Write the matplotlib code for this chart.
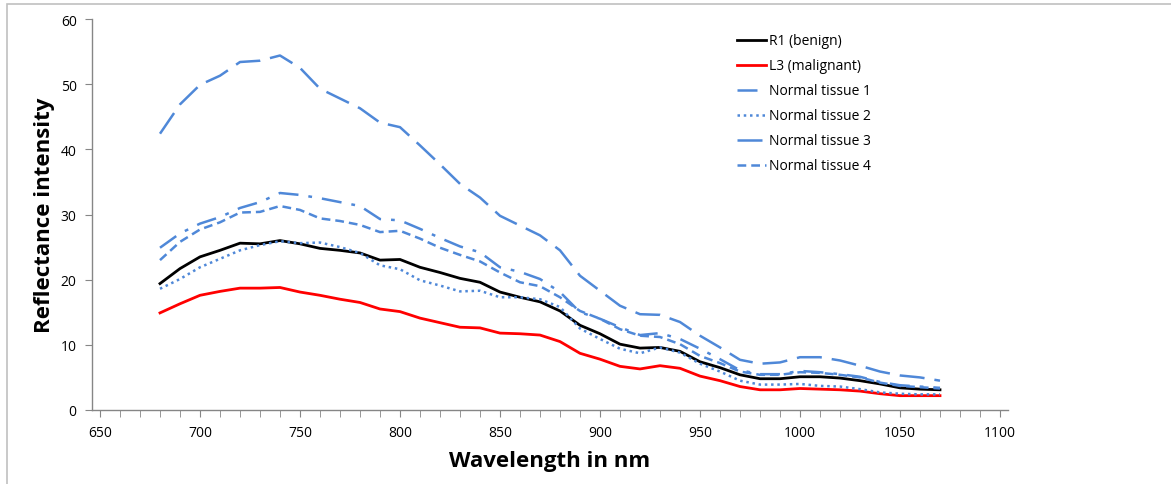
import matplotlib.pyplot as plt
from matplotlib.patches import Rectangle
import numpy as np

wavelength = np.arange(680, 1071, 10)

r1_benign = [19.4, 21.7, 23.5, 24.5, 25.6, 25.5, 26.0, 25.5, 24.8, 24.5,
             24.1, 23.0, 23.1, 21.9, 21.1, 20.2, 19.6, 18.1, 17.3, 16.6,
             15.2, 13.0, 11.7, 10.1, 9.5, 9.6, 9.0, 7.4, 6.5, 5.4,
             4.8, 4.8, 5.1, 5.1, 4.9, 4.5, 4.0, 3.4, 3.2, 3.1]
l3_malignant = [14.9, 16.3, 17.6, 18.2, 18.7, 18.7, 18.8, 18.1, 17.6, 17.0,
                16.5, 15.5, 15.1, 14.1, 13.4, 12.7, 12.6, 11.8, 11.7, 11.5,
                10.5, 8.7, 7.8, 6.7, 6.3, 6.8, 6.4, 5.2, 4.5, 3.6,
                3.1, 3.1, 3.3, 3.2, 3.1, 2.9, 2.5, 2.2, 2.2, 2.2]
normal_1 = [24.9, 27.1, 28.6, 29.6, 31.0, 31.9, 33.3, 33.0, 32.5, 31.9,
            31.3, 29.3, 29.1, 27.8, 26.4, 25.1, 24.2, 21.9, 21.2, 20.1,
            18.1, 15.0, 14.0, 12.7, 11.5, 11.8, 10.9, 9.4, 7.8, 6.1,
            5.5, 5.5, 6.0, 5.8, 5.5, 5.1, 4.3, 3.8, 3.6, 3.4]
normal_2 = [18.6, 20.1, 21.9, 23.2, 24.5, 25.3, 25.9, 25.6, 25.7, 25.0,
            24.1, 22.2, 21.6, 19.9, 19.1, 18.2, 18.3, 17.3, 17.3, 17.0,
            15.8, 12.5, 10.9, 9.4, 8.7, 9.6, 8.8, 7.1, 5.9, 4.5,
            3.9, 3.9, 4.0, 3.7, 3.6, 3.2, 2.7, 2.5, 2.4, 2.4]
normal_3 = [42.4, 46.9, 49.9, 51.3, 53.4, 53.6, 54.4, 52.5, 49.3, 47.8,
            46.3, 44.1, 43.4, 40.6, 37.7, 34.7, 32.6, 29.8, 28.3, 26.8,
            24.5, 20.6, 18.3, 16.0, 14.7, 14.6, 13.5, 11.4, 9.6, 7.7,
            7.1, 7.3, 8.1, 8.1, 7.6, 6.8, 5.9, 5.3, 5.0, 4.5]
normal_4 = [23.0, 25.8, 27.7, 28.8, 30.3, 30.4, 31.3, 30.7, 29.4, 29.0,
            28.4, 27.3, 27.5, 26.3, 24.9, 23.8, 22.8, 21.1, 19.6, 19.0,
            17.3, 15.2, 14.0, 12.4, 11.4, 11.2, 10.1, 8.3, 7.2, 5.9,
            5.4, 5.4, 5.8, 5.7, 5.4, 5.0, 4.2, 3.7, 3.5, 3.3]

plt.rcParams['font.family'] = ['Open Sans', 'DejaVu Sans']

blue = '#4f88d8'
axis_grey = '#868686'

fig = plt.figure(figsize=(11.71, 4.85), dpi=100)
# chart area border (top and left edges visible)
fig.patches.append(Rectangle((7 / 1171, -0.1), 1.2, (485 - 5) / 485 + 0.1,
                             transform=fig.transFigure, fill=False,
                             edgecolor='#c0c0c0', linewidth=1.2))

ax = fig.add_axes([92 / 1171, 74 / 485, 916 / 1171, 391 / 485])

ax.plot(wavelength, r1_benign, color='black', lw=2, label='R1 (benign)')
ax.plot(wavelength, l3_malignant, color='#ff0000', lw=2, label='L3 (malignant)')
ax.plot(wavelength, normal_1, color=blue, lw=1.8, dashes=(8, 4, 1.5, 4),
        label='Normal tissue 1')
ax.plot(wavelength, normal_2, color=blue, lw=1.8, dashes=(1, 1.5),
        label='Normal tissue 2')
ax.plot(wavelength, normal_3, color=blue, lw=1.8, dashes=(10, 4),
        label='Normal tissue 3')
ax.plot(wavelength, normal_4, color=blue, lw=1.8, dashes=(3.5, 2),
        label='Normal tissue 4')

ax.set_xlim(646, 1104)
ax.set_ylim(0, 60)
ax.set_xticks(np.arange(650, 1101, 50))
ax.set_xticks(np.arange(650, 1101, 10), minor=True)
ax.set_yticks(np.arange(0, 61, 10))

for side in ['top', 'right']:
    ax.spines[side].set_visible(False)
for side in ['left', 'bottom']:
    ax.spines[side].set_color(axis_grey)
    ax.spines[side].set_linewidth(1)

ax.tick_params(axis='both', which='both', color=axis_grey, labelsize=10,
               labelcolor='black', direction='out')
ax.tick_params(axis='x', which='major', length=5, pad=6)
ax.tick_params(axis='x', which='minor', length=5)
ax.tick_params(axis='y', length=5, pad=6)

ax.set_xlabel('Wavelength in nm', fontsize=16, fontweight='bold', labelpad=7)
ax.set_ylabel('Reflectance intensity', fontsize=16, fontweight='bold', labelpad=4)

ax.legend(loc='upper left', bbox_to_anchor=(0.69, 0.995), frameon=False,
          fontsize=10, handlelength=2.1, handletextpad=0.25,
          labelspacing=0.72)

fig.savefig('out.png', dpi=100)
